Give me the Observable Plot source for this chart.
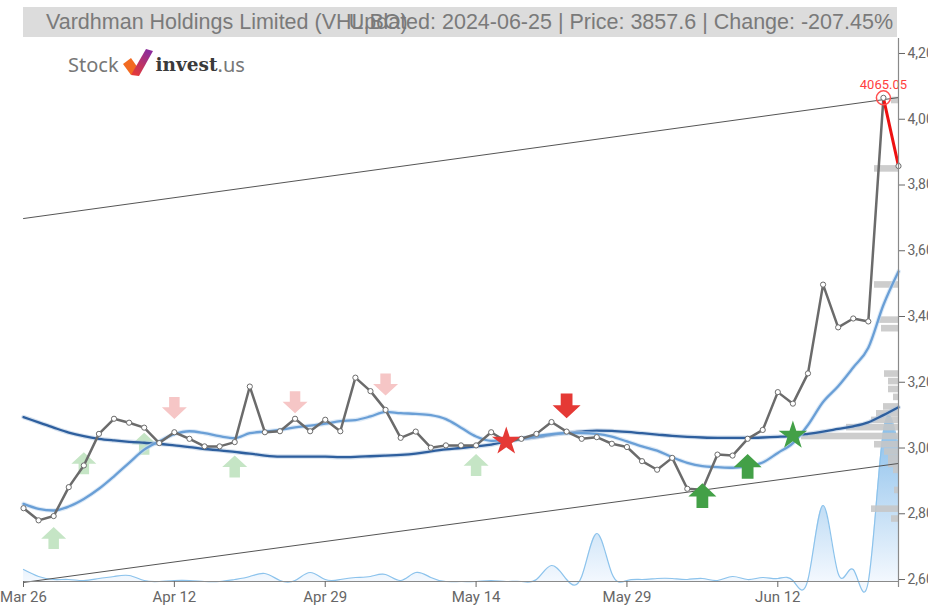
<!DOCTYPE html>
<html>
<head>
<meta charset="utf-8">
<script src="https://cdn.jsdelivr.net/npm/d3@7"></script>
<script src="https://cdn.jsdelivr.net/npm/@observablehq/plot@0.6"></script>
<style>
  html, body { margin: 0; padding: 0; background: #fff; overflow: hidden; width: 928px; height: 610px; }
  #wrap { position: relative; width: 928px; height: 610px; }
  #titlebar { position: absolute; left: 23px; top: 7px; width: 874px; height: 30px; background: #dcdcdc; }
  #titlebar span { position: absolute; top: 0; line-height: 30px; font-family: "Liberation Sans", Arial, sans-serif; font-size: 21.5px; color: #7a7a7a; white-space: nowrap; }
  #t1 { left: 23px; }
  #t2 { right: 4px; }
  #chart { position: absolute; left: 0; top: 38px; }
  #logo { position: absolute; left: 68px; top: 48px; height: 28px; display: flex; align-items: flex-end; white-space: nowrap; }
  #logo .stock { font-family: "Noto Sans", sans-serif; font-size: 20px; color: #777; line-height: 22px; }
  #logo .inv { font-family: "DejaVu Serif", serif; font-weight: bold; font-size: 18.5px; color: #3a3a3a; line-height: 22px; }
  #logo .us { font-family: "Noto Sans", sans-serif; font-size: 20px; color: #777; line-height: 22px; }
  #logo svg { margin: 0 3px 0 4px; }
</style>
</head>
<body>
<div id="wrap">
  <div id="chart"></div>
  <div id="titlebar"><span id="t1"></span><span id="t2"></span></div>
  <div id="logo">
    <span class="stock">Stock</span>
    <svg width="30" height="27" viewBox="0 0 30 27">
      <defs>
        <linearGradient id="lg1" x1="0" y1="1" x2="0.6" y2="0">
          <stop offset="0" stop-color="#ef3b2c"/>
          <stop offset="1" stop-color="#8e2c9a"/>
        </linearGradient>
      </defs>
      <polygon points="0,15 8,9 15,19 8,26" fill="#f26a21"/>
      <polygon points="8,26 23,0 30,2 16,27" fill="url(#lg1)"/>
    </svg>
    <span class="inv">invest</span><span class="us">.us</span>
  </div>
</div>
<script>
// ---------- data ----------
const titleText = "Vardhman Holdings Limited (VHL.BO)";
const updatedText = "Updated: 2024-06-25 | Price: 3857.6 | Change: -207.45%";

const xTickIdx = [0, 10, 20, 30, 40, 50];
const xTickLabels = ["Mar 26", "Apr 12", "Apr 29", "May 14", "May 29", "Jun 12"];
const yTicks = [2600, 2800, 3000, 3200, 3400, 3600, 3800, 4000, 4200];

const closes = [2817, 2780, 2793, 2881, 2947, 3043, 3089, 3077, 3062, 3015,
  3048, 3028, 3005, 3005, 3018, 3187, 3048, 3051, 3089, 3051,
  3086, 3051, 3214, 3173, 3116, 3031, 3050, 3001, 3008, 3008,
  3008, 3048, 3020, 3028, 3043, 3079, 3050, 3028, 3033, 3013,
  3003, 2960, 2934, 2970, 2876, 2873, 2980, 2977, 3028, 3055,
  3170, 3135, 3227, 3497, 3367, 3394, 3385, 4065.05, 3857.6];

const maShort = [2830, 2815, 2810, 2822, 2845, 2876, 2914, 2955, 2995, 3020,
  3042, 3051, 3045, 3036, 3030, 3045, 3050, 3055, 3063, 3068,
  3074, 3082, 3085, 3096, 3110, 3106, 3104, 3100, 3088, 3062,
  3035, 3022, 3025, 3030, 3036, 3042, 3045, 3045, 3043, 3035,
  3020, 3005, 2992, 2972, 2955, 2945, 2942, 2940, 2945, 2956,
  2985, 3015, 3070, 3140, 3188, 3245, 3305, 3435, 3537];

const maLong = [3094, 3078, 3062, 3047, 3036, 3028, 3023, 3019, 3016, 3013,
  3008, 3003, 2997, 2993, 2988, 2983, 2977, 2974, 2974, 2974,
  2974, 2972, 2973, 2975, 2977, 2979, 2983, 2990, 2996, 3000,
  3005, 3010, 3020, 3027, 3033, 3040, 3046, 3050, 3053, 3052,
  3049, 3045, 3041, 3037, 3034, 3032, 3031, 3031, 3031, 3032,
  3034, 3037, 3043, 3050, 3058, 3066, 3078, 3100, 3124];

const volumes = [12000, 5000, 2000, 2000, 1000, 3000, 5000, 6000, 1000, 0,
  1000, 1000, 0, 0, 2000, 5000, 8000, 1000, 1000, 9000,
  2000, 2000, 4000, 5000, 7000, 1000, 9000, 4000, 0, 0,
  0, 1000, 0, 0, 2000, 16000, 2000, 5000, 48000, 8000,
  1000, 2000, 3000, 3000, 2000, 3000, 1000, 5000, 2000, 4000,
  3000, 1000, 2000, 76000, 8000, 12000, 0, 150000, 135000];

const channelUpper = [3698, 4066];
const channelLower = [2591, 2953];

const profilePrice = [4057, 3849, 3496, 3389, 3363, 3225, 3202, 3178, 3154, 3125, 3104,
  3084, 3062, 3035, 3010, 2988, 2968, 2950, 2932, 2871, 2814, 2784];
const profileVolume = [7, 24, 24, 20, 17, 14, 10, 10, 5, 15, 22,
  27, 52, 97, 24, 14, 10, 10, 5, 4, 27, 7];

const fadedBuyIdx = [2, 4, 8, 14, 30];
const fadedBuyLevel = [2726, 2954, 3013, 2944, 2948];
const fadedSellIdx = [10, 18, 24];
const fadedSellLevel = [3122, 3139, 3193];
const buyIdx = [45, 48];
const buyLevel = [2855, 2944];
const sellIdx = [36];
const sellLevel = [3128];
const sellStarIdx = [32];
const sellStarLevel = [3020];
const buyStarIdx = [51];
const buyStarLevel = [3038];

const highIdx = 57;
const highLabel = "4065.05";

// ---------- build ----------
document.getElementById("t1").textContent = titleText;
document.getElementById("t2").textContent = updatedText;

const n = closes.length;
const last = n - 1;
const yMin = 2594, yMax = 4245.6;
const pxPerUnit = 543 / (yMax - yMin);
const pxPerIdx = 875 / last;
const volToY = v => yMin + (v / 1000) / pxPerUnit;

const priceData = closes.map((c, i) => ({i, c}));
const volData = volumes.map((v, i) => ({i, v}));
const maS = maShort.map((v, i) => ({i, v}));
const maL = maLong.map((v, i) => ({i, v}));
const prof = profilePrice.map((p, k) => ({p, w: profileVolume[k]}));
const pts = (idx, lvl) => idx.map((i, k) => ({i, y: lvl[k]}));

const arrowUp = {draw(ctx, size) {
  const r = Math.sqrt(size / Math.PI);
  ctx.moveTo(0, -0.88 * r); ctx.lineTo(r, 0.05 * r); ctx.lineTo(0.42 * r, 0.05 * r);
  ctx.lineTo(0.42 * r, 0.88 * r); ctx.lineTo(-0.42 * r, 0.88 * r); ctx.lineTo(-0.42 * r, 0.05 * r);
  ctx.lineTo(-r, 0.05 * r); ctx.closePath();
}};
const arrowDown = {draw(ctx, size) {
  const r = Math.sqrt(size / Math.PI);
  ctx.moveTo(0, 0.88 * r); ctx.lineTo(r, -0.05 * r); ctx.lineTo(0.42 * r, -0.05 * r);
  ctx.lineTo(0.42 * r, -0.88 * r); ctx.lineTo(-0.42 * r, -0.88 * r); ctx.lineTo(-0.42 * r, -0.05 * r);
  ctx.lineTo(-r, -0.05 * r); ctx.closePath();
}};

const chart = Plot.plot({
  width: 928,
  height: 572,
  marginLeft: 23,
  marginRight: 30,
  marginTop: 0,
  marginBottom: 29,
  x: {domain: [0, last], axis: null},
  y: {domain: [yMin, yMax], axis: null},
  style: {fontFamily: "Roboto, sans-serif", fontSize: "15px", color: "#666", background: "white", overflow: "visible"},
  marks: [
    // volume
    Plot.areaY(volData, {x: "i", y1: yMin, y2: d => volToY(d.v), curve: "natural", fill: "url(#volGrad)"}),
    Plot.lineY(volData, {x: "i", y: d => volToY(d.v), curve: "natural", stroke: "#8cc3ec", strokeWidth: 1.2}),
    // volume profile
    Plot.rect(prof, {x1: d => last - d.w / pxPerIdx, x2: last, y1: d => d.p - 10, y2: d => d.p + 10, fill: "#c6c6c6", fillOpacity: 0.88}),
    // channel
    Plot.line(channelUpper.map((v, k) => [k * last, v]), {stroke: "#555", strokeWidth: 1}),
    Plot.line(channelLower.map((v, k) => [k * last, v]), {stroke: "#555", strokeWidth: 1}),
    // faded signals
    Plot.dot(pts(fadedBuyIdx, fadedBuyLevel), {x: "i", y: "y", symbol: arrowUp, r: 12.5, fill: "#c5e5c5"}),
    Plot.dot(pts(fadedSellIdx, fadedSellLevel), {x: "i", y: "y", symbol: arrowDown, r: 12.5, fill: "#f6c6c6"}),
    // moving averages
    Plot.line(maL, {x: "i", y: "v", curve: "monotone-x", stroke: "#a9c2de", strokeWidth: 4.5, strokeOpacity: 0.5}),
    Plot.line(maL, {x: "i", y: "v", curve: "monotone-x", stroke: "#2e5f9e", strokeWidth: 2.3}),
    Plot.line(maS, {x: "i", y: "v", curve: "monotone-x", stroke: "#c7dcf1", strokeWidth: 4.5, strokeOpacity: 0.6}),
    Plot.line(maS, {x: "i", y: "v", curve: "monotone-x", stroke: "#6a9fd6", strokeWidth: 2.3}),
    // price
    Plot.line(priceData.slice(0, last), {x: "i", y: "c", stroke: "#6b6b6b", strokeWidth: 2.5}),
    Plot.line(priceData.slice(last - 1), {x: "i", y: "c", stroke: "#ee1111", strokeWidth: 3}),
    Plot.dot(priceData, {x: "i", y: "c", r: 2.6, fill: "white", stroke: "#6b6b6b", strokeWidth: 1}),
    Plot.dot([priceData[highIdx]], {x: "i", y: "c", r: 7, fill: "none", stroke: "#ff5050", strokeWidth: 1.5}),
    Plot.text([priceData[highIdx]], {x: "i", y: "c", text: () => highLabel, dy: -13, fill: "#ff4040", fontSize: 13}),
    // strong signals
    Plot.dot(pts(sellIdx, sellLevel), {x: "i", y: "y", symbol: arrowDown, r: 14, fill: "#e53935"}),
    Plot.dot(pts(buyIdx, buyLevel), {x: "i", y: "y", symbol: arrowUp, r: 14, fill: "#43a047"}),
    Plot.dot(pts(sellStarIdx, sellStarLevel), {x: "i", y: "y", symbol: "star", r: 9, fill: "#e53935"}),
    Plot.dot(pts(buyStarIdx, buyStarLevel), {x: "i", y: "y", symbol: "star", r: 9, fill: "#43a047"}),
    // axes
    Plot.ruleY([yMin], {stroke: "#8a8a8a", strokeWidth: 1.2}),
    Plot.ruleX([last], {y1: yMin - 6 / pxPerUnit, y2: yMax, stroke: "#8a8a8a", strokeWidth: 1.2}),
    Plot.axisY({anchor: "right", ticks: yTicks, tickFormat: d3.format(","), tickSize: 6, tickPadding: 3, fontSize: 14, label: null}),
    Plot.axisX({anchor: "bottom", ticks: xTickIdx, tickFormat: d => xTickLabels[xTickIdx.indexOf(d)], tickSize: 6, tickPadding: 4, label: null})
  ]
});

// gradient for the volume area
const ns = "http://www.w3.org/2000/svg";
const defs = document.createElementNS(ns, "defs");
const grad = document.createElementNS(ns, "linearGradient");
grad.setAttribute("id", "volGrad");
grad.setAttribute("gradientUnits", "userSpaceOnUse");
grad.setAttribute("x1", 0); grad.setAttribute("x2", 0);
grad.setAttribute("y1", 377); grad.setAttribute("y2", 543);
[["0", "#84bcea"], ["1", "#f3f8fe"]].forEach(([o, c]) => {
  const s = document.createElementNS(ns, "stop");
  s.setAttribute("offset", o); s.setAttribute("stop-color", c);
  grad.appendChild(s);
});
defs.appendChild(grad);
chart.insertBefore(defs, chart.firstChild);

document.getElementById("chart").appendChild(chart);
</script>
</body>
</html>
